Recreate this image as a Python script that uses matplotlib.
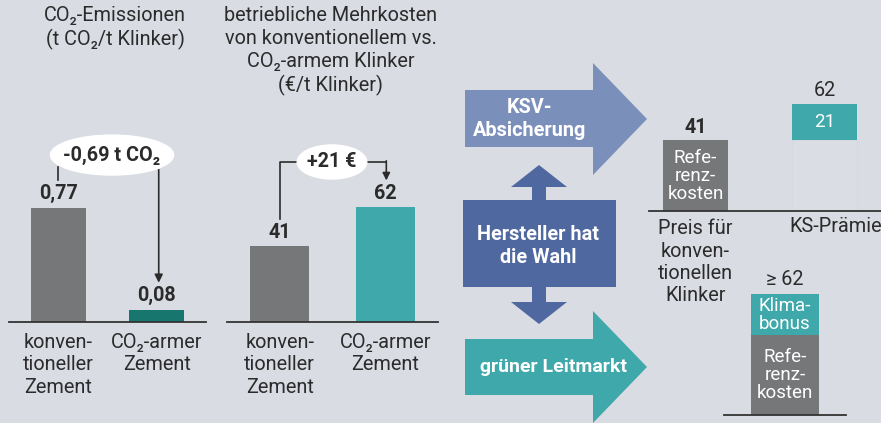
import matplotlib
matplotlib.use("Agg")
import matplotlib.pyplot as plt
from matplotlib.patches import Ellipse, Polygon, Rectangle

#=======================================================================
# Data
#=======================================================================

co2_categories = ["konven-\ntioneller\nZement", "CO₂-armer\nZement"]
co2_values = [0.77, 0.08]
co2_labels = ["0,77", "0,08"]
co2_delta = "-0,69 t CO₂"

cost_categories = ["konven-\ntioneller\nZement", "CO₂-armer\nZement"]
cost_values = [41, 62]
cost_delta = "+21 €"

ksv_categories = ["Preis für\nkonven-\ntionellen\nKlinker", "KS-Prämie"]
ksv_reference = 41
ksv_premium = 21

market_reference = 41
market_bonus = 21
market_label = "≥ 62"

title_co2 = "CO₂-Emissionen\n(t CO₂/t Klinker)"
title_cost = "betriebliche Mehrkosten\nvon konventionellem vs.\nCO₂-armem Klinker\n(€/t Klinker)"

#=======================================================================
# Style
#=======================================================================

plt.rcParams['font.family'] = ['Roboto', 'DejaVu Sans']
BG = "#d9dce3"
GREY = "#767778"
DARK_TEAL = "#17766e"
TEAL = "#3fa8ab"
BLUE_LIGHT = "#7b8fbb"
BLUE_DARK = "#5068a0"
TXT = "#2b2b2b"
W, H = 881, 423
FS_CAT = 14.3
FS_VAL = 14.2
FS_IN = 13.5

fig = plt.figure(figsize=(W / 100, H / 100), dpi=100)
fig.patch.set_facecolor(BG)


def axes_px(x0, y0, x1, y1, pad=8):
    ax = fig.add_axes([x0 / W, 1 - y1 / H, (x1 - x0) / W, (y1 - y0) / H])
    ax.patch.set_alpha(0)
    for s in ["top", "left", "right"]:
        ax.spines[s].set_visible(False)
    ax.spines["bottom"].set_color("#333333")
    ax.spines["bottom"].set_linewidth(1.3)
    ax.tick_params(length=0, labelsize=FS_CAT, colors=TXT, pad=pad)
    ax.set_yticks([])
    return ax


# overlay in pixel coordinates for arrows and titles
ov = fig.add_axes([0, 0, 1, 1])
ov.set_xlim(0, W)
ov.set_ylim(H, 0)
ov.axis("off")
ov.patch.set_alpha(0)

ov.text(115, 28, title_co2, ha="center", va="center", fontsize=14.3,
        color=TXT, linespacing=1.25)
ov.text(331, 51, title_cost, ha="center", va="center", fontsize=14.3,
        color=TXT, linespacing=1.25)

#=======================================================================
# Panel 1: CO2 emissions
#=======================================================================

ax1 = axes_px(9, 130, 206, 322)
ax1.bar([0, 1], co2_values, width=0.56, color=[GREY, DARK_TEAL])
ax1.set_xlim(-0.5, 1.5)
ax1.set_ylim(0, 192 / 148)
ax1.set_xticks([0, 1])
ax1.set_xticklabels(co2_categories, linespacing=1.22)
for i, (v, lab) in enumerate(zip(co2_values, co2_labels)):
    ax1.text(i, v + 0.035, lab, ha="center", va="bottom", fontsize=FS_VAL,
             fontweight="bold", color=TXT)
ax1.plot([0, 0], [0.96, 1.05], color=TXT, lw=1.2)
ax1.annotate("", xy=(1.02, co2_values[1] + 0.185), xytext=(1.02, 1.03),
             arrowprops=dict(arrowstyle="-|>", color=TXT, lw=1.2,
                             mutation_scale=12, shrinkA=0, shrinkB=0))
ax1.add_patch(Ellipse((0.546, 1.128), 1.25, 0.27, color="white", zorder=3))
ax1.text(0.546, 1.128, co2_delta, ha="center", va="center", fontsize=FS_VAL,
         fontweight="bold", color=TXT, zorder=4)

#=======================================================================
# Panel 2: operating cost
#=======================================================================

ax2 = axes_px(227, 130, 438, 322)
ax2.bar([0, 1], cost_values, width=0.56, color=[GREY, TEAL])
ax2.set_xlim(-0.5, 1.5)
ax2.set_ylim(0, 192 / 1.85)
ax2.set_xticks([0, 1])
ax2.set_xticklabels(cost_categories, linespacing=1.22)
for i, v in enumerate(cost_values):
    ax2.text(i, v + 2.3, str(v), ha="center", va="bottom", fontsize=FS_VAL,
             fontweight="bold", color=TXT)
ax2.plot([0, 0, 0.3], [55.7, 86.5, 86.5], color=TXT, lw=1.2)
ax2.plot([0.7, 1.01], [86.5, 86.5], color=TXT, lw=1.2)
ax2.annotate("", xy=(1.01, 76.5), xytext=(1.01, 87.1),
             arrowprops=dict(arrowstyle="-|>", color=TXT, lw=1.2,
                             mutation_scale=11, shrinkA=0, shrinkB=0))
ax2.add_patch(Ellipse((0.495, 86.5), 0.66, 18.4, color="white", zorder=3))
ax2.text(0.495, 86.5, cost_delta, ha="center", va="center", fontsize=FS_VAL,
         fontweight="bold", color=TXT, zorder=4)

#=======================================================================
# Arrows in the middle
#=======================================================================

top_arrow = [(465, 90), (593, 90), (593, 63), (647, 119), (593, 175),
             (593, 147), (465, 147)]
bot_arrow = [(465, 339), (593, 339), (593, 311), (647, 367), (593, 423),
             (593, 395), (465, 395)]
ov.add_patch(Polygon(top_arrow, closed=True, color=BLUE_LIGHT, lw=0))
ov.add_patch(Polygon(bot_arrow, closed=True, color=TEAL, lw=0))

ov.add_patch(Rectangle((463, 200), 153, 87, color=BLUE_DARK, lw=0))
ov.add_patch(Polygon([(532, 201), (532, 187), (511, 187), (539, 165),
                      (567, 187), (546, 187), (546, 201)],
                     closed=True, color=BLUE_DARK, lw=0))
ov.add_patch(Polygon([(532, 286), (532, 302), (511, 302), (539, 324),
                      (567, 302), (546, 302), (546, 286)],
                     closed=True, color=BLUE_DARK, lw=0))

ov.text(530, 119, "KSV-\nAbsicherung", ha="center", va="center",
        fontsize=14.3, fontweight="bold", color="white", linespacing=1.25)
ov.text(538, 246, "Hersteller hat\ndie Wahl", ha="center", va="center",
        fontsize=14.3, fontweight="bold", color="white", linespacing=1.25)
ov.text(553, 367, "grüner Leitmarkt", ha="center", va="center",
        fontsize=14, fontweight="bold", color="white")

#=======================================================================
# Top right: KSV
#=======================================================================

ax3 = axes_px(649, 60, 881, 211, pad=6)
ax3.set_xlim(-0.36, 1.438)
ax3.set_ylim(0, 151 / 1.73)
ax3.bar([0], [ksv_reference], width=0.504, color=GREY)
ax3.bar([1], [ksv_reference], width=0.504, color="#dadde4",
        edgecolor="#d5d8df", lw=0.6)
ax3.bar([1], [ksv_premium], bottom=[ksv_reference], width=0.504, color=TEAL)
ax3.set_xticks([0])
ax3.set_xticklabels(ksv_categories[:1], linespacing=1.22)
ax3.text(1.085, -3.2, ksv_categories[1], ha="center", va="top",
         fontsize=FS_CAT, color=TXT, clip_on=False)
ax3.text(0, ksv_reference + 1.8, str(ksv_reference), ha="center",
         va="bottom", fontsize=FS_VAL, fontweight="bold", color=TXT)
ax3.text(0, ksv_reference / 2, "Refe-\nrenz-\nkosten", ha="center",
         va="center", fontsize=FS_IN, color="white", linespacing=1.0)
ax3.text(1, ksv_reference + ksv_premium / 2, str(ksv_premium), ha="center",
         va="center", fontsize=FS_IN, color="white")
ax3.text(1, ksv_reference + ksv_premium + 2.3,
         str(ksv_reference + ksv_premium),
         ha="center", va="bottom", fontsize=FS_CAT, color=TXT)

#=======================================================================
# Bottom right: green lead market
#=======================================================================

ax4 = axes_px(724, 270, 846, 415)
ax4.set_xlim(-0.5, 0.5)
ax4.set_ylim(0, 145 / 1.95)
ax4.bar([0], [market_reference], width=0.557, color=GREY)
ax4.bar([0], [market_bonus], bottom=[market_reference], width=0.557,
        color=TEAL)
ax4.set_xticks([])
ax4.text(0, market_reference / 2, "Refe-\nrenz-\nkosten", ha="center",
         va="center", fontsize=FS_IN, color="white", linespacing=1.0)
ax4.text(0, market_reference + market_bonus / 2, "Klima-\nbonus",
         ha="center", va="center", fontsize=FS_IN, color="white",
         linespacing=1.0)
ax4.text(0, market_reference + market_bonus + 2.6, market_label,
         ha="center", va="bottom", fontsize=FS_CAT, color=TXT, clip_on=False)

fig.savefig("out.png", dpi=100, facecolor=BG)
